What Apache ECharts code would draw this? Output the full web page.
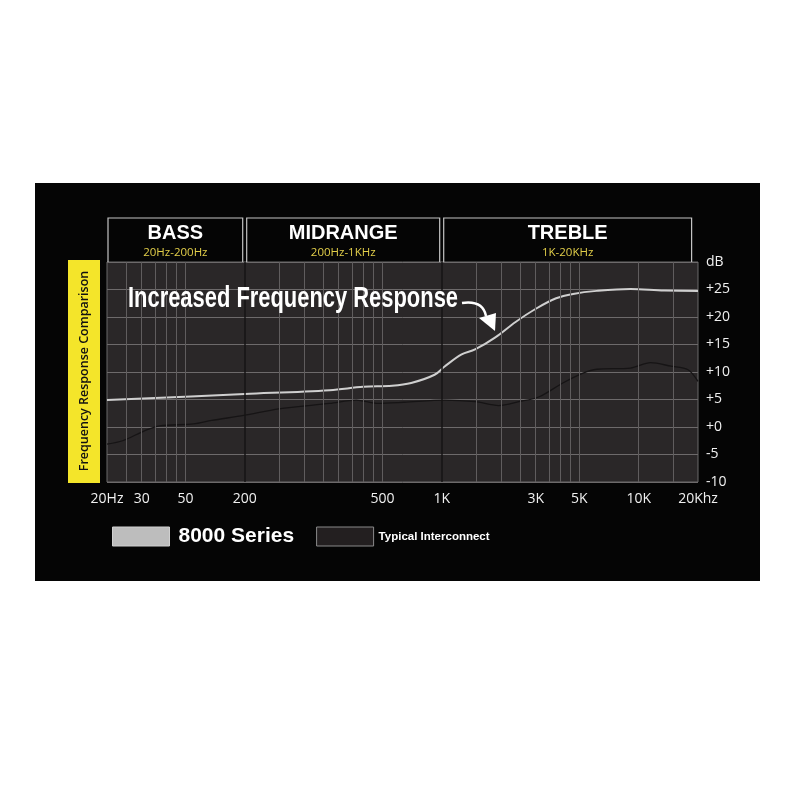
<!DOCTYPE html>
<html>
<head>
<meta charset="utf-8">
<script src="https://cdn.jsdelivr.net/npm/echarts@6/dist/echarts.min.js"></script>
<style>
  html, body { margin: 0; padding: 0; background: #fff; }
  #chart { width: 800px; height: 800px; }
</style>
</head>
<body>
<div id="chart"></div>
<script>
  // 曲线数据, [Hz, dB]
  var series8000 = [
    [20, 4.9], [100, 6.0], [270, 6.7], [400, 7.3], [560, 7.5], [700, 8.0],
    [920, 9.5], [1035, 11.0], [1262, 13.2], [1477, 14.1], [1872, 16.3],
    [2372, 19.1], [3006, 21.5], [3809, 23.4], [4645, 24.2], [6128, 24.75],
    [9085, 25.1], [13490, 24.8], [20000, 24.75]
  ];
  var seriesTypical = [
    [20, -3.1], [24, -2.5], [31, -0.7], [37, 0.2], [55, 0.55], [68, 1.2],
    [99, 2.1], [149, 3.3], [270, 4.3], [369, 4.9], [468, 4.3], [644, 4.5],
    [1035, 4.9], [1477, 4.6], [1946, 3.9], [2466, 4.6], [3126, 5.5],
    [4118, 8.0], [5220, 9.8], [6128, 10.5], [9085, 10.7], [11500, 11.7],
    [14580, 11.05], [17800, 10.4], [20000, 8.3]
  ];

  // x 轴标签 (原图把 100Hz 处标成了 200)
  var xLabelValues = [20, 30, 50, 100, 500, 1000, 3000, 5000, 10000, 20000];
  var xLabelNames  = ['20Hz', '30', '50', '200', '500', '1K', '3K', '5K', '10K', '20Khz'];
  // 竖向网格线
  var gridFreqs = [25, 30, 35, 40, 45, 50, 150, 200, 250, 300, 350, 400, 450, 500,
                   1500, 2000, 2500, 3000, 3500, 4000, 4500, 5000, 10000, 15000];
  var bandLines = [100, 1000];
  // 频段
  var bandNames  = ['BASS', 'MIDRANGE', 'TREBLE'];
  var bandRanges = ['20Hz-200Hz', '200Hz-1KHz', '1K-20KHz'];
  var bandEdges  = [[20, 100], [100, 1000], [1000, 19000]];
  var NOTE = 'Increased Frequency Response';

  var TXT = '#f0f0f0';
  var NUM_FONT = '"Open Sans", sans-serif';
  var BOLD = '"Liberation Sans", Arial, sans-serif';

  var chart = echarts.init(document.getElementById('chart'));

  function vLines(list, color, width) {
    return {
      silent: true, symbol: 'none', label: { show: false },
      lineStyle: { color: color, width: width, type: 'solid' },
      emphasis: { disabled: true },
      data: list.map(function (f) { return { xAxis: f }; })
    };
  }

  // 量文字宽度, 用来把粗体字横向压窄 (没有窄体字库)
  function textWidth(text, font) {
    var ctx = document.createElement('canvas').getContext('2d');
    ctx.font = font;
    return ctx.measureText(text).width;
  }

  var option = {
    backgroundColor: '#fff',
    animation: false,
    grid: {
      left: 107, right: 102, top: 262, bottom: 318,
      show: true, backgroundColor: '#2a2728', borderColor: '#6a6a6a', borderWidth: 1
    },
    legend: {
      left: 107, top: 521, icon: 'rect', itemWidth: 57, itemHeight: 19, itemGap: 22,
      selectedMode: false,
      data: [
        { name: '8000 Series', itemStyle: { color: '#bdbdbd', borderColor: '#d0d0d0', borderWidth: 1 },
          textStyle: { color: '#fff', fontSize: 21, fontWeight: 'bold', fontFamily: BOLD, padding: [0, 0, 0, 4] } },
        { name: 'Typical Interconnect', itemStyle: { color: '#231f20', borderColor: '#8a8a8a', borderWidth: 1 },
          textStyle: { color: '#fff', fontSize: 11.5, fontWeight: 'bold', fontFamily: BOLD, padding: [4, 0, 0, 0] } }
      ]
    },
    xAxis: {
      type: 'log', logBase: 10, min: 20, max: 20000,
      axisLine: { show: false },
      axisTick: { show: false },
      splitLine: { show: false },
      axisLabel: {
        customValues: xLabelValues,
        color: TXT, fontSize: 14, fontFamily: NUM_FONT, margin: 10,
        formatter: function (v) {
          var i = xLabelValues.indexOf(Math.round(v));
          return i >= 0 ? xLabelNames[i] : '';
        }
      }
    },
    yAxis: {
      type: 'value', position: 'right', min: -10, max: 30, interval: 5,
      axisLine: { show: false }, axisTick: { show: false },
      splitLine: { lineStyle: { color: '#6d6a6b', width: 1 } },
      axisLabel: {
        color: TXT, fontSize: 14, fontFamily: NUM_FONT, margin: 8,
        formatter: function (v) {
          if (v === 30) return 'dB';
          return v > 0 ? '+' + v : (v === 0 ? '+0' : '' + v);
        }
      }
    },
    series: [
      {
        // 只用来画网格线
        name: 'grid', type: 'line', data: [], silent: true,
        markLine: vLines(gridFreqs, '#605d5e', 1)
      },
      {
        name: 'Typical Interconnect', type: 'line', data: seriesTypical,
        showSymbol: false, smooth: 0.3, color: '#231f20',
        lineStyle: { color: '#161415', width: 1.3 },
        markLine: vLines(bandLines, '#161415', 1.5)
      },
      {
        name: '8000 Series', type: 'line', data: series8000,
        showSymbol: false, smooth: 0.35, color: '#bdbdbd',
        lineStyle: { color: '#cfcfcf', width: 2 }
      }
    ]
  };
  chart.setOption(option);

  // 装饰: 黑色底板, 频段表头, 黄色侧标题, 注释箭头
  var noteFont = 'bold 30px ' + BOLD;
  var noteScale = 330 / textWidth(NOTE, noteFont);
  var g = [
    { type: 'rect', z: -10, shape: { x: 35, y: 183, width: 725, height: 398 }, style: { fill: '#050505' } },
    { type: 'rect', shape: { x: 68, y: 260, width: 32, height: 223 }, style: { fill: '#f4e52a' } },
    { type: 'text', x: 84, y: 371, rotation: Math.PI / 2,
      style: { text: 'Frequency Response Comparison', fill: '#111', font: '600 12.5px "Open Sans", sans-serif',
               align: 'center', verticalAlign: 'middle' } },
    { type: 'text', x: 128, y: 299, z: 50, scaleX: noteScale,
      style: { text: NOTE, fill: '#fff', font: noteFont, verticalAlign: 'middle' } },
    { type: 'bezierCurve', z: 50,
      shape: { x1: 462, y1: 303, x2: 486, y2: 316, cpx1: 476, cpy1: 301, cpx2: 484, cpy2: 306 },
      style: { stroke: '#fff', lineWidth: 2.5, fill: null } },
    { type: 'polygon', z: 50,
      shape: { points: [[479, 318], [496, 313], [495, 331]] }, style: { fill: '#fff' } }
  ];

  var yTop = chart.convertToPixel({ yAxisIndex: 0 }, 30);
  bandEdges.forEach(function (e, i) {
    var x0 = chart.convertToPixel({ xAxisIndex: 0 }, e[0]) + (i === 0 ? 1 : 2);
    var x1 = chart.convertToPixel({ xAxisIndex: 0 }, e[1]) - 2;
    var y0 = 218;
    g.push({ type: 'polyline', shape: { points: [[x0, yTop], [x0, y0], [x1, y0], [x1, yTop]] },
             style: { stroke: '#c4c4c4', lineWidth: 1.2, fill: null } });
    g.push({ type: 'text', x: (x0 + x1) / 2, y: 233,
             style: { text: bandNames[i], fill: '#fff', font: 'bold 20px ' + BOLD,
                      align: 'center', verticalAlign: 'middle' } });
    g.push({ type: 'text', x: (x0 + x1) / 2, y: 253,
             style: { text: bandRanges[i], fill: '#e3cf4a', font: '11.5px "Open Sans", sans-serif',
                      align: 'center', verticalAlign: 'middle' } });
  });
  chart.setOption({ graphic: g });
</script>
</body>
</html>
